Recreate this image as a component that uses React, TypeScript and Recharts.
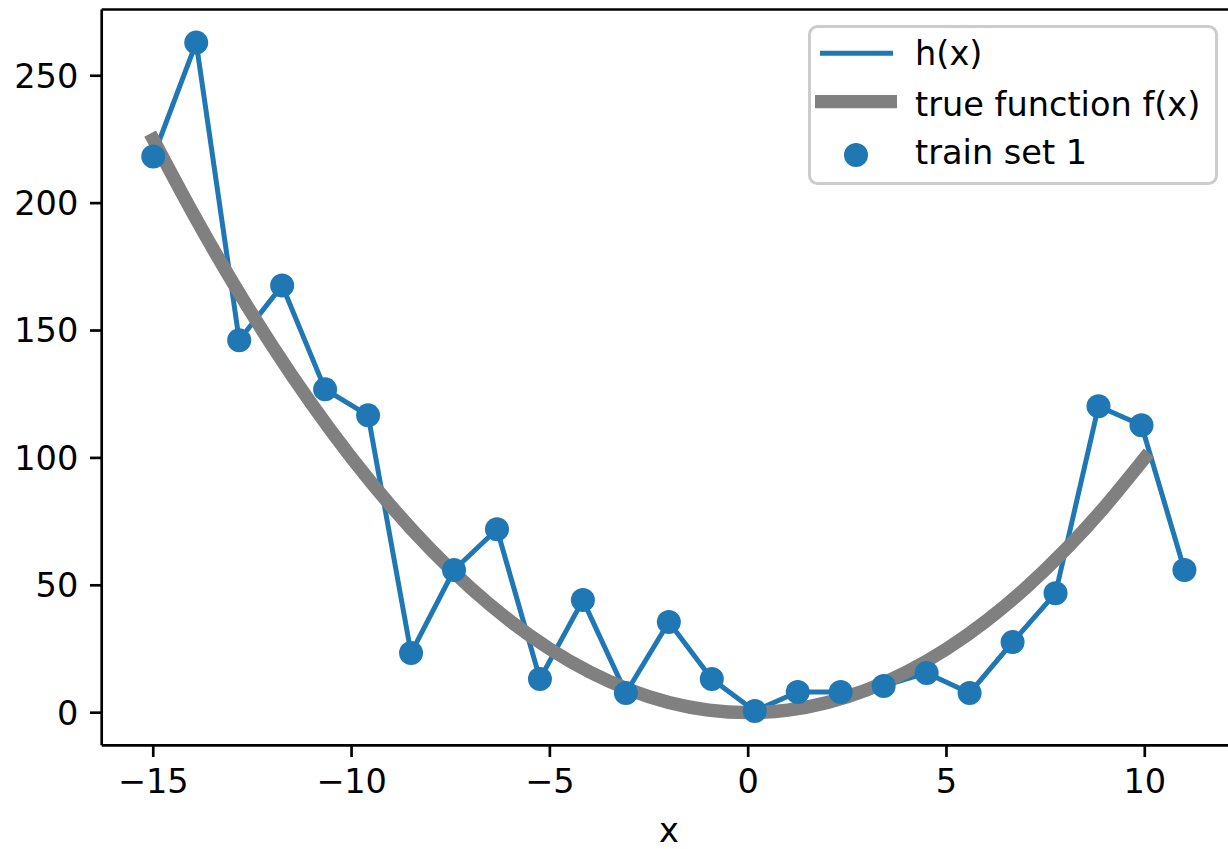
import React from 'react';
import { ComposedChart, Line, Scatter, XAxis, YAxis, Legend, ReferenceLine } from 'recharts';

const trainX = [
  -15, -13.917, -12.833, -11.75, -10.667, -9.583, -8.5, -7.417, -6.333, -5.25, -4.167, -3.083, -2,
  -0.917, 0.167, 1.25, 2.333, 3.417, 4.5, 5.583, 6.667, 7.75, 8.833, 9.917, 11,
];
const trainY = [
  218.3, 263.0, 146.2, 167.7, 126.9, 116.7, 23.4, 56.0, 72.0, 13.2, 44.2, 7.7, 35.6,
  13.2, 0.7, 8.1, 8.1, 10.5, 15.6, 7.7, 27.7, 46.9, 120.3, 112.8, 56.0,
];
const trueX = [-15, -14, -13, -12, -11, -10, -9, -8, -7, -6, -5, -4, -3, -2, -1, 0, 1, 2, 3, 4, 5, 6, 7, 8, 9, 10];
const trueY = [225, 196, 169, 144, 121, 100, 81, 64, 49, 36, 25, 16, 9, 4, 1, 0, 1, 4, 9, 16, 25, 36, 49, 64, 81, 100];
const xTicks = [-15, -10, -5, 0, 5, 10];
const yTicks = [0, 50, 100, 150, 200, 250];

const trainData = trainX.map((x, i) => ({ x, y: trainY[i] }));
const trueData = trueX.map((x, i) => ({ x, y: trueY[i] }));

const BLUE = '#1f77b4';
const GRAY = '#808080';
const FONT = '"DejaVu Sans", sans-serif';
const FS = 33.6;
const X_DOMAIN: [number, number] = [-16.3, 12.3];
const Y_DOMAIN: [number, number] = [-12.8, 276];

const fmt = (v: number) => (v < 0 ? '\u2212' + Math.abs(v) : String(v));

const LegendBox = () => (
  <svg width={410} height={160} style={{ display: 'block' }}>
    <rect x={1.5} y={1.5} width={407} height={157} rx={8} ry={8} fill="rgba(255,255,255,0.8)" stroke="#cccccc" strokeWidth={3} />
    <line x1={12} x2={85} y1={28.3} y2={28.3} stroke={BLUE} strokeWidth={5} />
    <line x1={7} x2={89} y1={76.7} y2={76.7} stroke={GRAY} strokeWidth={13.3} />
    <circle cx={48} cy={130} r={12} fill={BLUE} />
    <text x={107} y={40} fontFamily={FONT} fontSize={FS} fill="#000">h(x)</text>
    <text x={107} y={91} fontFamily={FONT} fontSize={FS} fill="#000">true function f(x)</text>
    <text x={107} y={139} fontFamily={FONT} fontSize={FS} fill="#000">train set 1</text>
  </svg>
);

const tickStyle = { fontFamily: FONT, fontSize: FS, fill: '#000' };

export default function App() {
  return (
    <div style={{ position: 'absolute', left: 0, top: 0, width: 1228, height: 849, overflow: 'hidden', background: '#fff' }}>
      <ComposedChart width={1240} height={849} margin={{ top: 9.5, right: 4, bottom: 0, left: 0 }}>
        <XAxis
          xAxisId="b"
          dataKey="x"
          type="number"
          domain={X_DOMAIN}
          ticks={xTicks}
          tickFormatter={fmt}
          height={103.7}
          tickSize={11.7}
          tickMargin={12}
          tick={tickStyle}
          axisLine={{ stroke: '#000', strokeWidth: 2.67 }}
          tickLine={{ stroke: '#000', strokeWidth: 2.67 }}
          allowDataOverflow
          label={{ value: 'x', position: 'insideBottom', offset: 7, style: { fontFamily: FONT, fontSize: FS, fill: '#000' } }}
        />
        <YAxis
          yAxisId="l"
          type="number"
          domain={Y_DOMAIN}
          ticks={yTicks}
          tickFormatter={fmt}
          width={101.7}
          tickSize={11.7}
          tickMargin={11.7}
          tick={tickStyle}
          axisLine={{ stroke: '#000', strokeWidth: 2.67 }}
          tickLine={{ stroke: '#000', strokeWidth: 2.67 }}
          allowDataOverflow
        />
        <ReferenceLine xAxisId="b" yAxisId="l" y={Y_DOMAIN[1]} stroke="#000" strokeWidth={2.67} ifOverflow="visible" />
        <ReferenceLine xAxisId="b" yAxisId="l" x={X_DOMAIN[1]} stroke="#000" strokeWidth={2.67} ifOverflow="visible" />
        <Legend
          layout="vertical"
          align="center"
          verticalAlign="middle"
          wrapperStyle={{ position: 'absolute', left: 808, top: 25, width: 410, height: 160 }}
          content={() => <LegendBox />}
        />
        <Scatter
          xAxisId="b"
          yAxisId="l"
          data={trainData}
          dataKey="y"
          isAnimationActive={false}
          shape={(p: any) => <circle cx={p.cx} cy={p.cy} r={12} fill={BLUE} />}
        />
        <Line
          xAxisId="b"
          yAxisId="l"
          data={trainData}
          dataKey="y"
          type="linear"
          stroke={BLUE}
          strokeWidth={5}
          strokeLinejoin="round"
          dot={false}
          activeDot={false}
          isAnimationActive={false}
        />
        <Line
          xAxisId="b"
          yAxisId="l"
          data={trueData}
          dataKey="y"
          type="natural"
          stroke={GRAY}
          strokeWidth={13.3}
          strokeLinecap="square"
          dot={false}
          activeDot={false}
          isAnimationActive={false}
        />
      </ComposedChart>
    </div>
  );
}
